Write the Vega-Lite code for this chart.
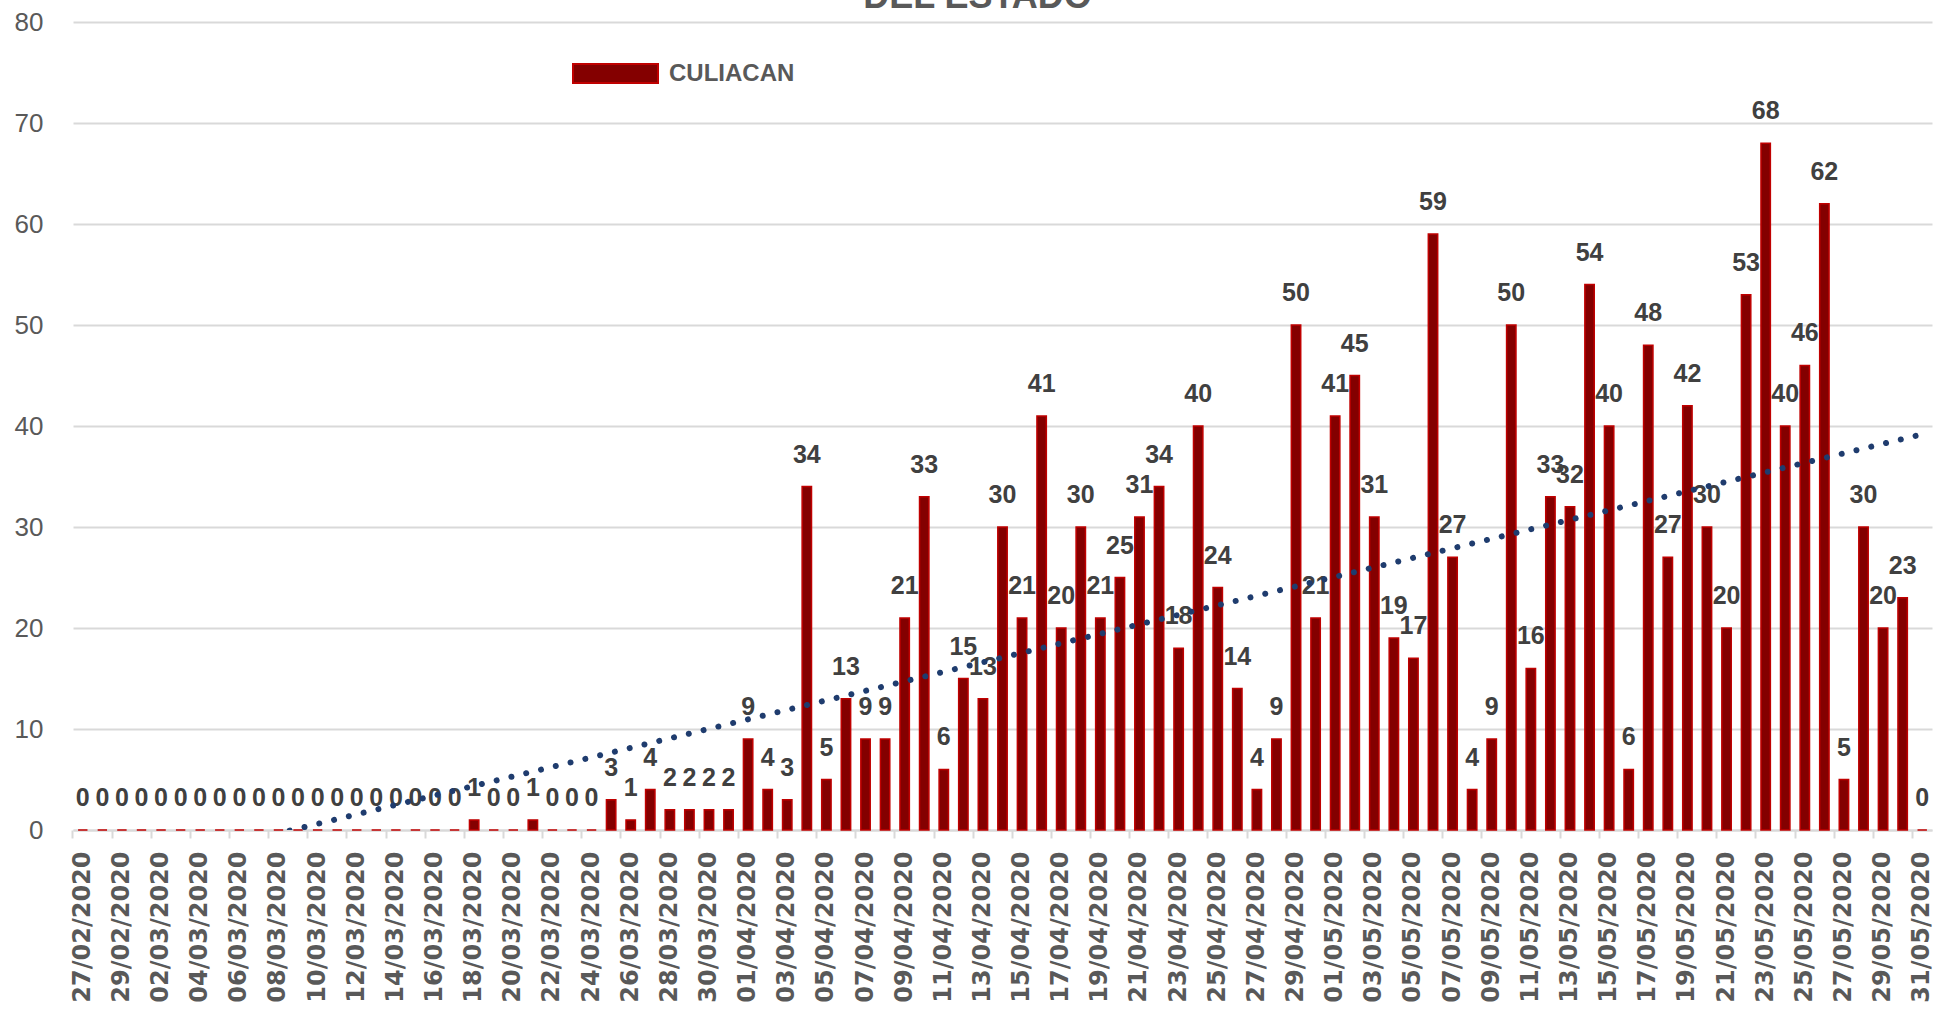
{
  "$schema": "https://vega.github.io/schema/vega-lite/v6.json",
  "width": 1859,
  "height": 808,
  "autosize": {"type": "none"},
  "padding": {"left": 73, "top": 22, "right": 1, "bottom": 184},
  "background": "white",
  "config": {"view": {"stroke": null}},
  "title": {"text": "DEL ESTADO", "fontSize": 36, "fontWeight": "bold", "font": "Liberation Sans", "color": "#595959", "anchor": "middle", "frame": "group", "baseline": "alphabetic", "offset": 0, "dx": -25, "dy": 35},
  "data": {"values": [
    {"fecha": "27/02/2020", "dia": 1, "casos": 0},
    {"fecha": "28/02/2020", "dia": 2, "casos": 0},
    {"fecha": "29/02/2020", "dia": 3, "casos": 0},
    {"fecha": "01/03/2020", "dia": 4, "casos": 0},
    {"fecha": "02/03/2020", "dia": 5, "casos": 0},
    {"fecha": "03/03/2020", "dia": 6, "casos": 0},
    {"fecha": "04/03/2020", "dia": 7, "casos": 0},
    {"fecha": "05/03/2020", "dia": 8, "casos": 0},
    {"fecha": "06/03/2020", "dia": 9, "casos": 0},
    {"fecha": "07/03/2020", "dia": 10, "casos": 0},
    {"fecha": "08/03/2020", "dia": 11, "casos": 0},
    {"fecha": "09/03/2020", "dia": 12, "casos": 0},
    {"fecha": "10/03/2020", "dia": 13, "casos": 0},
    {"fecha": "11/03/2020", "dia": 14, "casos": 0},
    {"fecha": "12/03/2020", "dia": 15, "casos": 0},
    {"fecha": "13/03/2020", "dia": 16, "casos": 0},
    {"fecha": "14/03/2020", "dia": 17, "casos": 0},
    {"fecha": "15/03/2020", "dia": 18, "casos": 0},
    {"fecha": "16/03/2020", "dia": 19, "casos": 0},
    {"fecha": "17/03/2020", "dia": 20, "casos": 0},
    {"fecha": "18/03/2020", "dia": 21, "casos": 1},
    {"fecha": "19/03/2020", "dia": 22, "casos": 0},
    {"fecha": "20/03/2020", "dia": 23, "casos": 0},
    {"fecha": "21/03/2020", "dia": 24, "casos": 1},
    {"fecha": "22/03/2020", "dia": 25, "casos": 0},
    {"fecha": "23/03/2020", "dia": 26, "casos": 0},
    {"fecha": "24/03/2020", "dia": 27, "casos": 0},
    {"fecha": "25/03/2020", "dia": 28, "casos": 3},
    {"fecha": "26/03/2020", "dia": 29, "casos": 1},
    {"fecha": "27/03/2020", "dia": 30, "casos": 4},
    {"fecha": "28/03/2020", "dia": 31, "casos": 2},
    {"fecha": "29/03/2020", "dia": 32, "casos": 2},
    {"fecha": "30/03/2020", "dia": 33, "casos": 2},
    {"fecha": "31/03/2020", "dia": 34, "casos": 2},
    {"fecha": "01/04/2020", "dia": 35, "casos": 9},
    {"fecha": "02/04/2020", "dia": 36, "casos": 4},
    {"fecha": "03/04/2020", "dia": 37, "casos": 3},
    {"fecha": "04/04/2020", "dia": 38, "casos": 34},
    {"fecha": "05/04/2020", "dia": 39, "casos": 5},
    {"fecha": "06/04/2020", "dia": 40, "casos": 13},
    {"fecha": "07/04/2020", "dia": 41, "casos": 9},
    {"fecha": "08/04/2020", "dia": 42, "casos": 9},
    {"fecha": "09/04/2020", "dia": 43, "casos": 21},
    {"fecha": "10/04/2020", "dia": 44, "casos": 33},
    {"fecha": "11/04/2020", "dia": 45, "casos": 6},
    {"fecha": "12/04/2020", "dia": 46, "casos": 15},
    {"fecha": "13/04/2020", "dia": 47, "casos": 13},
    {"fecha": "14/04/2020", "dia": 48, "casos": 30},
    {"fecha": "15/04/2020", "dia": 49, "casos": 21},
    {"fecha": "16/04/2020", "dia": 50, "casos": 41},
    {"fecha": "17/04/2020", "dia": 51, "casos": 20},
    {"fecha": "18/04/2020", "dia": 52, "casos": 30},
    {"fecha": "19/04/2020", "dia": 53, "casos": 21},
    {"fecha": "20/04/2020", "dia": 54, "casos": 25},
    {"fecha": "21/04/2020", "dia": 55, "casos": 31},
    {"fecha": "22/04/2020", "dia": 56, "casos": 34},
    {"fecha": "23/04/2020", "dia": 57, "casos": 18},
    {"fecha": "24/04/2020", "dia": 58, "casos": 40},
    {"fecha": "25/04/2020", "dia": 59, "casos": 24},
    {"fecha": "26/04/2020", "dia": 60, "casos": 14},
    {"fecha": "27/04/2020", "dia": 61, "casos": 4},
    {"fecha": "28/04/2020", "dia": 62, "casos": 9},
    {"fecha": "29/04/2020", "dia": 63, "casos": 50},
    {"fecha": "30/04/2020", "dia": 64, "casos": 21},
    {"fecha": "01/05/2020", "dia": 65, "casos": 41},
    {"fecha": "02/05/2020", "dia": 66, "casos": 45},
    {"fecha": "03/05/2020", "dia": 67, "casos": 31},
    {"fecha": "04/05/2020", "dia": 68, "casos": 19},
    {"fecha": "05/05/2020", "dia": 69, "casos": 17},
    {"fecha": "06/05/2020", "dia": 70, "casos": 59},
    {"fecha": "07/05/2020", "dia": 71, "casos": 27},
    {"fecha": "08/05/2020", "dia": 72, "casos": 4},
    {"fecha": "09/05/2020", "dia": 73, "casos": 9},
    {"fecha": "10/05/2020", "dia": 74, "casos": 50},
    {"fecha": "11/05/2020", "dia": 75, "casos": 16},
    {"fecha": "12/05/2020", "dia": 76, "casos": 33},
    {"fecha": "13/05/2020", "dia": 77, "casos": 32},
    {"fecha": "14/05/2020", "dia": 78, "casos": 54},
    {"fecha": "15/05/2020", "dia": 79, "casos": 40},
    {"fecha": "16/05/2020", "dia": 80, "casos": 6},
    {"fecha": "17/05/2020", "dia": 81, "casos": 48},
    {"fecha": "18/05/2020", "dia": 82, "casos": 27},
    {"fecha": "19/05/2020", "dia": 83, "casos": 42},
    {"fecha": "20/05/2020", "dia": 84, "casos": 30},
    {"fecha": "21/05/2020", "dia": 85, "casos": 20},
    {"fecha": "22/05/2020", "dia": 86, "casos": 53},
    {"fecha": "23/05/2020", "dia": 87, "casos": 68},
    {"fecha": "24/05/2020", "dia": 88, "casos": 40},
    {"fecha": "25/05/2020", "dia": 89, "casos": 46},
    {"fecha": "26/05/2020", "dia": 90, "casos": 62},
    {"fecha": "27/05/2020", "dia": 91, "casos": 5},
    {"fecha": "28/05/2020", "dia": 92, "casos": 30},
    {"fecha": "29/05/2020", "dia": 93, "casos": 20},
    {"fecha": "30/05/2020", "dia": 94, "casos": 23},
    {"fecha": "31/05/2020", "dia": 95, "casos": 0}
  ]},
  "layer": [
    {
      "layer": [
        {
          "mark": {"type": "bar", "stroke": "#c00000", "strokeWidth": 1.5},
          "encoding": {
            "x": {
              "field": "fecha", "type": "ordinal", "sort": null,
              "scale": {"paddingInner": 0.52, "paddingOuter": 0.26},
              "axis": {
                "title": null,
                "values": ["27/02/2020","29/02/2020","02/03/2020","04/03/2020","06/03/2020","08/03/2020","10/03/2020","12/03/2020","14/03/2020","16/03/2020","18/03/2020","20/03/2020","22/03/2020","24/03/2020","26/03/2020","28/03/2020","30/03/2020","01/04/2020","03/04/2020","05/04/2020","07/04/2020","09/04/2020","11/04/2020","13/04/2020","15/04/2020","17/04/2020","19/04/2020","21/04/2020","23/04/2020","25/04/2020","27/04/2020","29/04/2020","01/05/2020","03/05/2020","05/05/2020","07/05/2020","09/05/2020","11/05/2020","13/05/2020","15/05/2020","17/05/2020","19/05/2020","21/05/2020","23/05/2020","25/05/2020","27/05/2020","29/05/2020","31/05/2020"],
                "labelAngle": -90,
                "labelFont": "DejaVu Sans",
                "labelFontWeight": "bold",
                "labelFontSize": 24,
                "labelColor": "#595959",
                "labelOverlap": false,
                "labelPadding": 13,
                "domainColor": "#d9d9d9",
                "domainWidth": 2,
                "tickColor": "#d9d9d9",
                "tickWidth": 2,
                "tickSize": 8,
                "bandPosition": -0.542
              }
            },
            "y": {
              "field": "casos", "type": "quantitative",
              "scale": {"domain": [0, 80], "nice": false},
              "axis": {
                "title": null,
                "values": [0, 10, 20, 30, 40, 50, 60, 70, 80],
                "domain": false,
                "ticks": false,
                "labelFont": "Liberation Sans",
                "labelFontSize": 26,
                "labelColor": "#595959",
                "labelPadding": 30,
                "gridColor": "#d9d9d9",
                "gridWidth": 2
              }
            },
            "color": {
              "datum": "CULIACAN",
              "scale": {"range": ["#840000"]},
              "legend": {
                "title": null,
                "orient": "none",
                "legendX": 499,
                "legendY": 8,
                "padding": 0,
                "symbolType": "M-1,-0.2235H1V0.2235H-1Z",
                "symbolSize": 7225,
                "symbolStrokeColor": "#c00000",
                "symbolStrokeWidth": 2,
                "symbolOpacity": 1,
                "labelFont": "Liberation Sans",
                "labelFontWeight": "bold",
                "labelFontSize": 24,
                "labelColor": "#595959",
                "labelOffset": 10
              }
            }
          }
        },
        {
          "mark": {"type": "text", "font": "Liberation Sans", "fontWeight": "bold", "fontSize": 25, "color": "#404040", "baseline": "alphabetic", "dy": -24},
          "encoding": {
            "x": {"field": "fecha", "type": "ordinal", "sort": null},
            "y": {"field": "casos", "type": "quantitative"},
            "text": {"field": "casos", "type": "quantitative"}
          }
        }
      ]
    },
    {
      "transform": [{"regression": "casos", "on": "dia"}],
      "mark": {"type": "line", "clip": true, "color": "#1f3c6e", "strokeWidth": 6, "strokeCap": "round", "strokeDash": [0.01, 15.2]},
      "encoding": {
        "x": {"field": "dia", "type": "quantitative", "scale": {"domain": [0.5, 95.5], "nice": false, "zero": false}, "axis": null},
        "y": {"field": "casos", "type": "quantitative"}
      }
    }
  ],
  "resolve": {"scale": {"x": "independent"}}
}
